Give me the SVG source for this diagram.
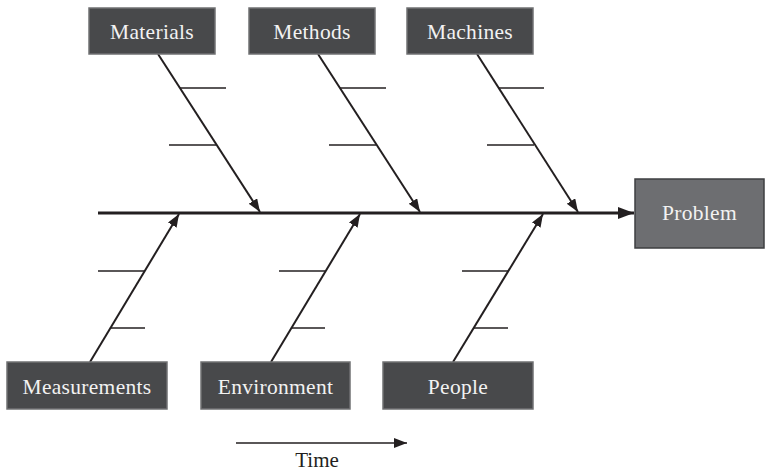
<svg xmlns="http://www.w3.org/2000/svg" width="766" height="471" viewBox="0 0 766 471">
  <style>
    .box { fill: #48494b; stroke: #707173; stroke-width: 1.5; }
    .effect { fill: #6d6e71; stroke: #3e3f41; stroke-width: 1.5; }
    .label { font-family: "Liberation Serif", "Times New Roman", serif; font-size: 21.5px; fill: #f2f2f2; text-anchor: middle; letter-spacing: 0.3px; }
    .bone { stroke: #231f20; stroke-width: 2; fill: none; }
    .spine { stroke: #231f20; stroke-width: 3; fill: none; }
    .rib { stroke: #231f20; stroke-width: 1.6; fill: none; }
    .caption { font-family: "Liberation Serif", "Times New Roman", serif; font-size: 21px; fill: #231f20; text-anchor: middle; }
  </style>
  <defs>
    <marker id="head" markerUnits="userSpaceOnUse" markerWidth="14" markerHeight="11" refX="13" refY="5" orient="auto">
      <path d="M0,0 L13,5 L0,10 z" fill="#231f20"/>
    </marker>
    <marker id="headLarge" markerUnits="userSpaceOnUse" markerWidth="17" markerHeight="13" refX="16" refY="6" orient="auto">
      <path d="M0,0 L16,6 L0,12 z" fill="#231f20"/>
    </marker>
  </defs>
  <rect width="766" height="471" fill="#ffffff"/>

  <!-- connectors: spine, bones, ribs, time axis -->
  <g id="connectors">
    <line class="spine" x1="98" y1="213" x2="634" y2="213" marker-end="url(#headLarge)"/>

    <line class="bone" x1="158" y1="54" x2="260" y2="212" marker-end="url(#head)"/>
    <line class="rib" x1="180" y1="88" x2="226" y2="88"/>
    <line class="rib" x1="169" y1="145" x2="216" y2="145"/>

    <line class="bone" x1="318" y1="54" x2="420" y2="212" marker-end="url(#head)"/>
    <line class="rib" x1="340" y1="88" x2="386" y2="88"/>
    <line class="rib" x1="329" y1="145" x2="376" y2="145"/>

    <line class="bone" x1="477" y1="54" x2="578" y2="212" marker-end="url(#head)"/>
    <line class="rib" x1="498" y1="88" x2="544" y2="88"/>
    <line class="rib" x1="487" y1="145" x2="534" y2="145"/>

    <line class="bone" x1="90" y1="362" x2="179" y2="214" marker-end="url(#head)"/>
    <line class="rib" x1="98" y1="271" x2="145" y2="271"/>
    <line class="rib" x1="110" y1="328" x2="145" y2="328"/>

    <line class="bone" x1="271" y1="362" x2="360" y2="214" marker-end="url(#head)"/>
    <line class="rib" x1="279" y1="271" x2="325" y2="271"/>
    <line class="rib" x1="291" y1="328" x2="325" y2="328"/>

    <line class="bone" x1="453" y1="362" x2="543" y2="214" marker-end="url(#head)"/>
    <line class="rib" x1="462" y1="271" x2="508" y2="271"/>
    <line class="rib" x1="474" y1="328" x2="508" y2="328"/>

    <line class="rib" x1="236" y1="443" x2="407" y2="443" marker-end="url(#head)"/>
  </g>

  <g id="materials">
    <rect class="box" x="89" y="8" width="126" height="46"/>
    <text class="label" x="152" y="39">Materials</text>
  </g>
  <g id="methods">
    <rect class="box" x="249" y="8" width="126" height="46"/>
    <text class="label" x="312" y="39">Methods</text>
  </g>
  <g id="machines">
    <rect class="box" x="407" y="8" width="126" height="46"/>
    <text class="label" x="470" y="39">Machines</text>
  </g>
  <g id="problem">
    <rect class="effect" x="635" y="179" width="129" height="69"/>
    <text class="label" x="699.5" y="220">Problem</text>
  </g>
  <g id="measurements">
    <rect class="box" x="7" y="362" width="160" height="47"/>
    <text class="label" x="87" y="394">Measurements</text>
  </g>
  <g id="environment">
    <rect class="box" x="201" y="362" width="149" height="47"/>
    <text class="label" x="275.5" y="394">Environment</text>
  </g>
  <g id="people">
    <rect class="box" x="383" y="362" width="150" height="47"/>
    <text class="label" x="458" y="394">People</text>
  </g>
  <g id="time">
    <text class="caption" x="317" y="467">Time</text>
  </g>
</svg>
